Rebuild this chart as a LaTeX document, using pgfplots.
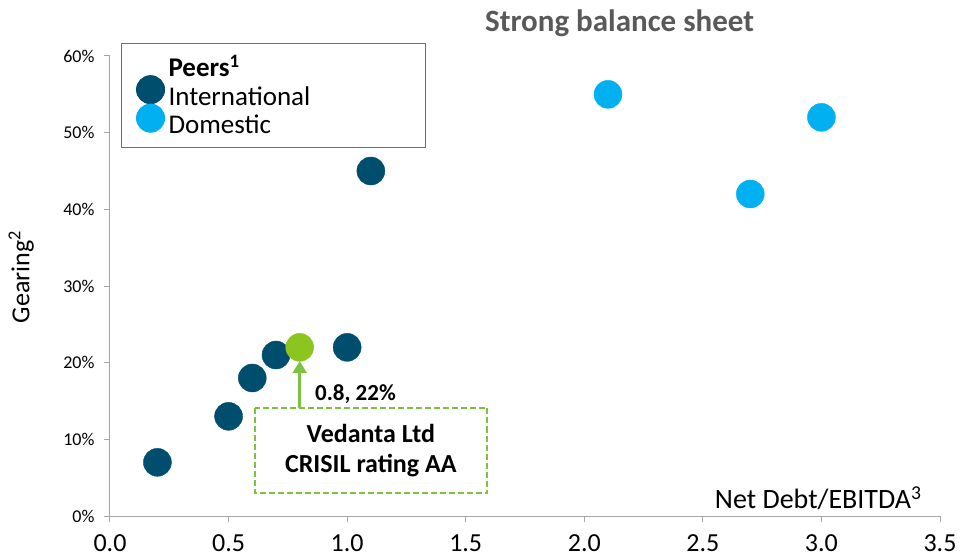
\documentclass[border=0pt]{standalone}
\usepackage{pgfplots}
\pgfplotsset{compat=1.18}
\usepackage{fontspec}
\setmainfont{Carlito}
\usetikzlibrary{arrows.meta}
\definecolor{intl}{HTML}{004E6D}
\definecolor{dom}{HTML}{00B0F0}
\definecolor{ved}{HTML}{8CC51E}
\definecolor{grn}{HTML}{7DC243}
\definecolor{ttl}{HTML}{595959}
\definecolor{axgray}{HTML}{A6A6A6}
\definecolor{lgblue}{HTML}{4472C4}
\begin{document}
\begin{tikzpicture}
\useasboundingbox (-110pt,-41pt) rectangle (853pt,516pt);
\begin{axis}[
  scale only axis, width=830pt, height=460pt,
  xmin=0, xmax=3.5, ymin=0, ymax=60,
  clip=false,
  axis x line=bottom, axis y line=left,
  axis line style={-, draw=axgray, line width=1pt},
  tick style={draw=axgray, line width=1pt},
  major tick length=6pt,
  tick align=outside,
  xtick={0,0.5,1,1.5,2,2.5,3,3.5},
  ytick={0,10,20,30,40,50,60},
  /pgf/number format/assume math mode=true,
  xticklabel style={font=\fontsize{26}{26}\selectfont, yshift=-9pt, /pgf/number format/.cd, fixed, fixed zerofill, precision=1},
  yticklabel={\pgfmathprintnumber{\tick}\%},
  yticklabel style={font=\fontsize{18}{18}\selectfont, xshift=-6pt},
  xlabel={Net Debt/EBITDA\textsuperscript{3}},
  xlabel style={at={(axis description cs:0.978,0.014)}, anchor=south east, inner sep=0pt, font=\fontsize{28}{28}\selectfont},
  ylabel={Gearing\textsuperscript{2}},
  ylabel style={at={(axis description cs:-0.107,0.52)}, anchor=center, font=\fontsize{26}{26}\selectfont},
  title={Strong balance sheet},
  title style={at={(axis description cs:0.614,1.058)}, anchor=center, font=\fontsize{31}{31}\selectfont\bfseries, text=ttl},
  legend cell align=left,
  legend image code/.code={%
    \begin{pgfinterruptboundingbox}
    \path[#1, only marks] plot coordinates {(16pt,6pt)};
    \end{pgfinterruptboundingbox}
    \pgfpathrectangle{\pgfpointorigin}{\pgfpoint{28pt}{1pt}}%
    \pgfusepath{use as bounding box}%
  },
  legend style={at={(axis description cs:0.0133,1.028)}, anchor=north west, draw=lgblue, line width=1pt,
    font=\fontsize{27}{30}\selectfont, inner xsep=13pt, inner ysep=10pt, row sep=2pt,
    /tikz/every odd column/.append style={column sep=4pt}},
]
\addlegendimage{empty legend}
\addlegendentry{\strut\textbf{Peers\textsuperscript{1}}}
\addplot[only marks, color=intl, mark=*, mark size=14pt, mark options={draw=intl, fill=intl}] coordinates {
 (0.2,7) (0.5,13) (0.6,18) (0.7,21) (1.0,22) (1.1,45)};
\addlegendentry{\strut\makebox[242pt][l]{International}}
\addplot[only marks, color=dom, mark=*, mark size=14pt, mark options={draw=dom, fill=dom}] coordinates {
 (2.1,55) (2.7,42) (3.0,52)};
\addlegendentry{\strut\makebox[242pt][l]{Domestic}}
\addplot[only marks, color=ved, mark=*, mark size=14pt, mark options={draw=ved, fill=ved}, forget plot] coordinates {
 (0.8,22)};
\draw[grn, line width=1.8pt, dash pattern=on 6pt off 3pt] (axis cs:0.61,14.1) rectangle (axis cs:1.59,3);
\node[align=center, font=\fontsize{26}{30}\selectfont\bfseries] at (axis cs:1.1,8.5) {Vedanta Ltd\\CRISIL rating AA};
\node[anchor=west, font=\fontsize{23}{23}\selectfont\bfseries] at (axis cs:0.85,15.9) {0.8, 22\%};
\draw[grn, line width=2.5pt, -{Triangle[width=14pt,length=12pt]}] (axis cs:0.8,14.1) -- (axis cs:0.8,20.2);
\end{axis}
\end{tikzpicture}
\end{document}
